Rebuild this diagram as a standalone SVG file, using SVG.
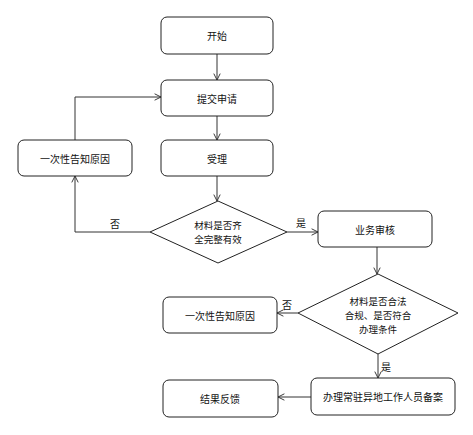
<svg xmlns="http://www.w3.org/2000/svg" width="473" height="435" viewBox="0 0 473 435">
<style>
.n{fill:#fff;stroke:#222;stroke-width:1}
.t{font-family:"Noto Sans CJK SC","Liberation Sans",sans-serif;font-size:10px;fill:#111;text-anchor:middle;dominant-baseline:central}
.s{font-size:9.5px}
.c{fill:none;stroke:#333;stroke-width:1}
</style>
<defs>
<marker id="a" viewBox="0 0 10 10" refX="9" refY="5" markerWidth="8" markerHeight="8" markerUnits="userSpaceOnUse" orient="auto">
<path d="M1,1 L9,5 L1,9" fill="none" stroke="#333" stroke-width="1.2"/>
</marker>
</defs>
<rect width="473" height="435" fill="#fff"/>
<g id="connectors">
<path class="c" d="M217,54 V80" marker-end="url(#a)"/>
<path class="c" d="M217,116 V140" marker-end="url(#a)"/>
<path class="c" d="M217,176 V201" marker-end="url(#a)"/>
<path class="c" d="M150,232 H75 V176" marker-end="url(#a)"/>
<path class="c" d="M75,140 V97 H161" marker-end="url(#a)"/>
<path class="c" d="M287,232 H318" marker-end="url(#a)"/>
<path class="c" d="M377,247 V274" marker-end="url(#a)"/>
<path class="c" d="M298,313 H277" marker-end="url(#a)"/>
<path class="c" d="M378,354 V378" marker-end="url(#a)"/>
<path class="c" d="M311,397 H278" marker-end="url(#a)"/>
<text class="t" x="115" y="223">否</text>
<text class="t" x="301" y="222">是</text>
<text class="t" x="287" y="304">否</text>
<text class="t" x="386" y="366">是</text>
</g>
<g id="start"><rect class="n" x="161" y="17" width="112" height="37" rx="6"/><text class="t" x="217" y="35.5">开始</text></g>
<g id="submit"><rect class="n" x="161" y="80" width="112" height="36" rx="6"/><text class="t" x="217" y="98">提交申请</text></g>
<g id="accept"><rect class="n" x="161" y="140" width="112" height="36" rx="6"/><text class="t" x="217" y="158">受理</text></g>
<g id="notify1"><rect class="n" x="18" y="140" width="114" height="36" rx="6"/><text class="t" x="75" y="158">一次性告知原因</text></g>
<g id="check1"><polygon class="n" points="218,201 287,232 218,263 150,232"/><text class="t s" x="218" y="225">材料是否齐</text><text class="t s" x="218" y="239">全完整有效</text></g>
<g id="review"><rect class="n" x="318" y="211" width="114" height="36" rx="6"/><text class="t" x="375" y="229">业务审核</text></g>
<g id="check2"><polygon class="n" points="378,274 458,313 378,354 298,313"/><text class="t s" x="378" y="301">材料是否合法</text><text class="t s" x="378" y="315">合规、是否符合</text><text class="t s" x="378" y="329">办理条件</text></g>
<g id="notify2"><rect class="n" x="163" y="297" width="114" height="36" rx="6"/><text class="t" x="220" y="315">一次性告知原因</text></g>
<g id="record"><rect class="n" x="311" y="378" width="144" height="37" rx="6"/><text class="t" x="383" y="396.5">办理常驻异地工作人员备案</text></g>
<g id="feedback"><rect class="n" x="163" y="380" width="115" height="37" rx="6"/><text class="t" x="220" y="398.5">结果反馈</text></g>
</svg>
